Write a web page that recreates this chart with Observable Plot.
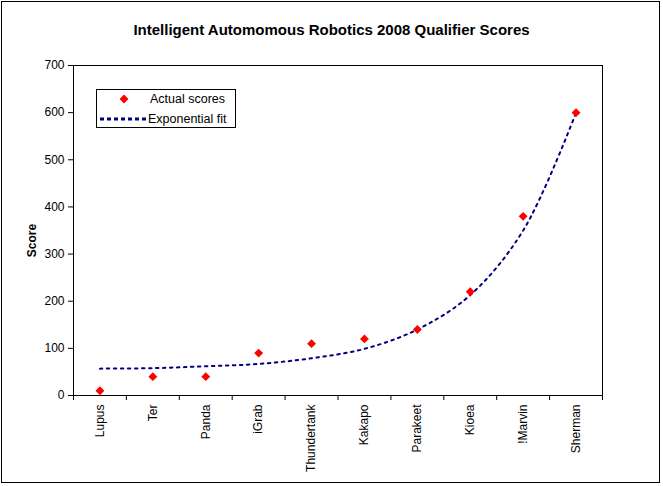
<!DOCTYPE html>
<html>
<head>
<meta charset="utf-8">
<script src="https://cdn.jsdelivr.net/npm/d3@7"></script>
<script src="https://cdn.jsdelivr.net/npm/@observablehq/plot@0.6"></script>
<style>
  body { margin: 0; background: #fff; font-family: "Liberation Sans", Arial, sans-serif; }
  #wrap { position: relative; width: 663px; height: 486px; overflow: hidden; }
  #border { position: absolute; left: 1px; top: 1px; width: 657px; height: 480px; border: 1px solid #000; }
  #title { position: absolute; left: 0; top: 21px; width: 663px; text-align: center; font-weight: bold; font-size: 15px; line-height: 17px; }
  #chart { position: absolute; left: 0; top: 0; }
  #legend { position: absolute; left: 96px; top: 89px; }
</style>
</head>
<body>
<div id="wrap">
  <div id="border"></div>
  <div id="chart"></div>
  <div id="title">Intelligent Automomous Robotics 2008 Qualifier Scores</div>
  <div id="legend"></div>
</div>
<script>
const categories = ["Lupus", "Ter", "Panda", "iGrab", "Thundertank", "Kakapo", "Parakeet", "Kioea", "!Marvin", "Sherman"];
const actualScores = [10, 40, 40, 90, 110, 120, 140, 220, 380, 600];
const exponentialFit = [57, 58, 62, 67, 79, 99, 140, 213, 350, 600];
const yTicks = [0, 100, 200, 300, 400, 500, 600, 700];
const seriesNames = ["Actual scores", "Exponential fit"];

const rows = categories.map((name, i) => ({name, pos: i + 1, actual: actualScores[i], fit: exponentialFit[i]}));
const boundaries = d3.range(0, categories.length + 1).map(i => i + 0.5);

const chart = Plot.plot({
  width: 663,
  height: 486,
  marginLeft: 73,
  marginRight: 61,
  marginTop: 65,
  marginBottom: 91,
  style: {fontFamily: "'Liberation Sans', Arial, sans-serif", fontSize: "12px", background: "transparent", color: "#000"},
  x: {domain: [0.5, categories.length + 0.5]},
  y: {domain: [0, 700]},
  marks: [
    Plot.frame({stroke: "#000", strokeWidth: 1}),
    Plot.axisY({ticks: yTicks, tickSize: 5, tickPadding: 4, label: null, tickFormat: d => String(d)}),
    Plot.axisX({ticks: boundaries, tickSize: 5, tickFormat: () => "", label: null}),
    Plot.axisX({ticks: rows.map(d => d.pos), tickSize: 0, tickPadding: 9, tickRotate: -90,
                tickFormat: i => categories[i - 1], label: null}),
    Plot.line(rows, {x: "pos", y: "fit", stroke: "#000080", strokeWidth: 2, strokeDasharray: "2.5 4.5", curve: "catmull-rom"}),
    Plot.dot(rows, {x: "pos", y: "actual", symbol: "diamond2", r: 4, fill: "#ff0000", stroke: "none"}),
    Plot.text(["Score"], {text: d => d, frameAnchor: "left", dx: -41, dy: 10, rotate: -90, textAnchor: "middle",
                          fontWeight: "bold", fontSize: 12})
  ]
});
document.getElementById("chart").appendChild(chart);

// Legend
const lg = d3.select("#legend").append("svg").attr("width", 141).attr("height", 40)
  .style("font-family", "'Liberation Sans', Arial, sans-serif").style("font-size", "12.5px");
lg.append("rect").attr("x", 0.5).attr("y", 0.5).attr("width", 139).attr("height", 38).attr("fill", "#fff").attr("stroke", "#000");
lg.append("path").attr("d", d3.symbol(d3.symbolDiamond2, Math.PI * 16)()).attr("transform", "translate(28,10)").attr("fill", "#ff0000");
lg.append("text").attr("x", 54).attr("y", 10).attr("dy", "0.35em").text(seriesNames[0]);
lg.append("line").attr("x1", 4).attr("x2", 51).attr("y1", 30).attr("y2", 30)
  .attr("stroke", "#000080").attr("stroke-width", 3).attr("stroke-dasharray", "4 3");
lg.append("text").attr("x", 52).attr("y", 30).attr("dy", "0.35em").text(seriesNames[1]);
</script>
</body>
</html>
